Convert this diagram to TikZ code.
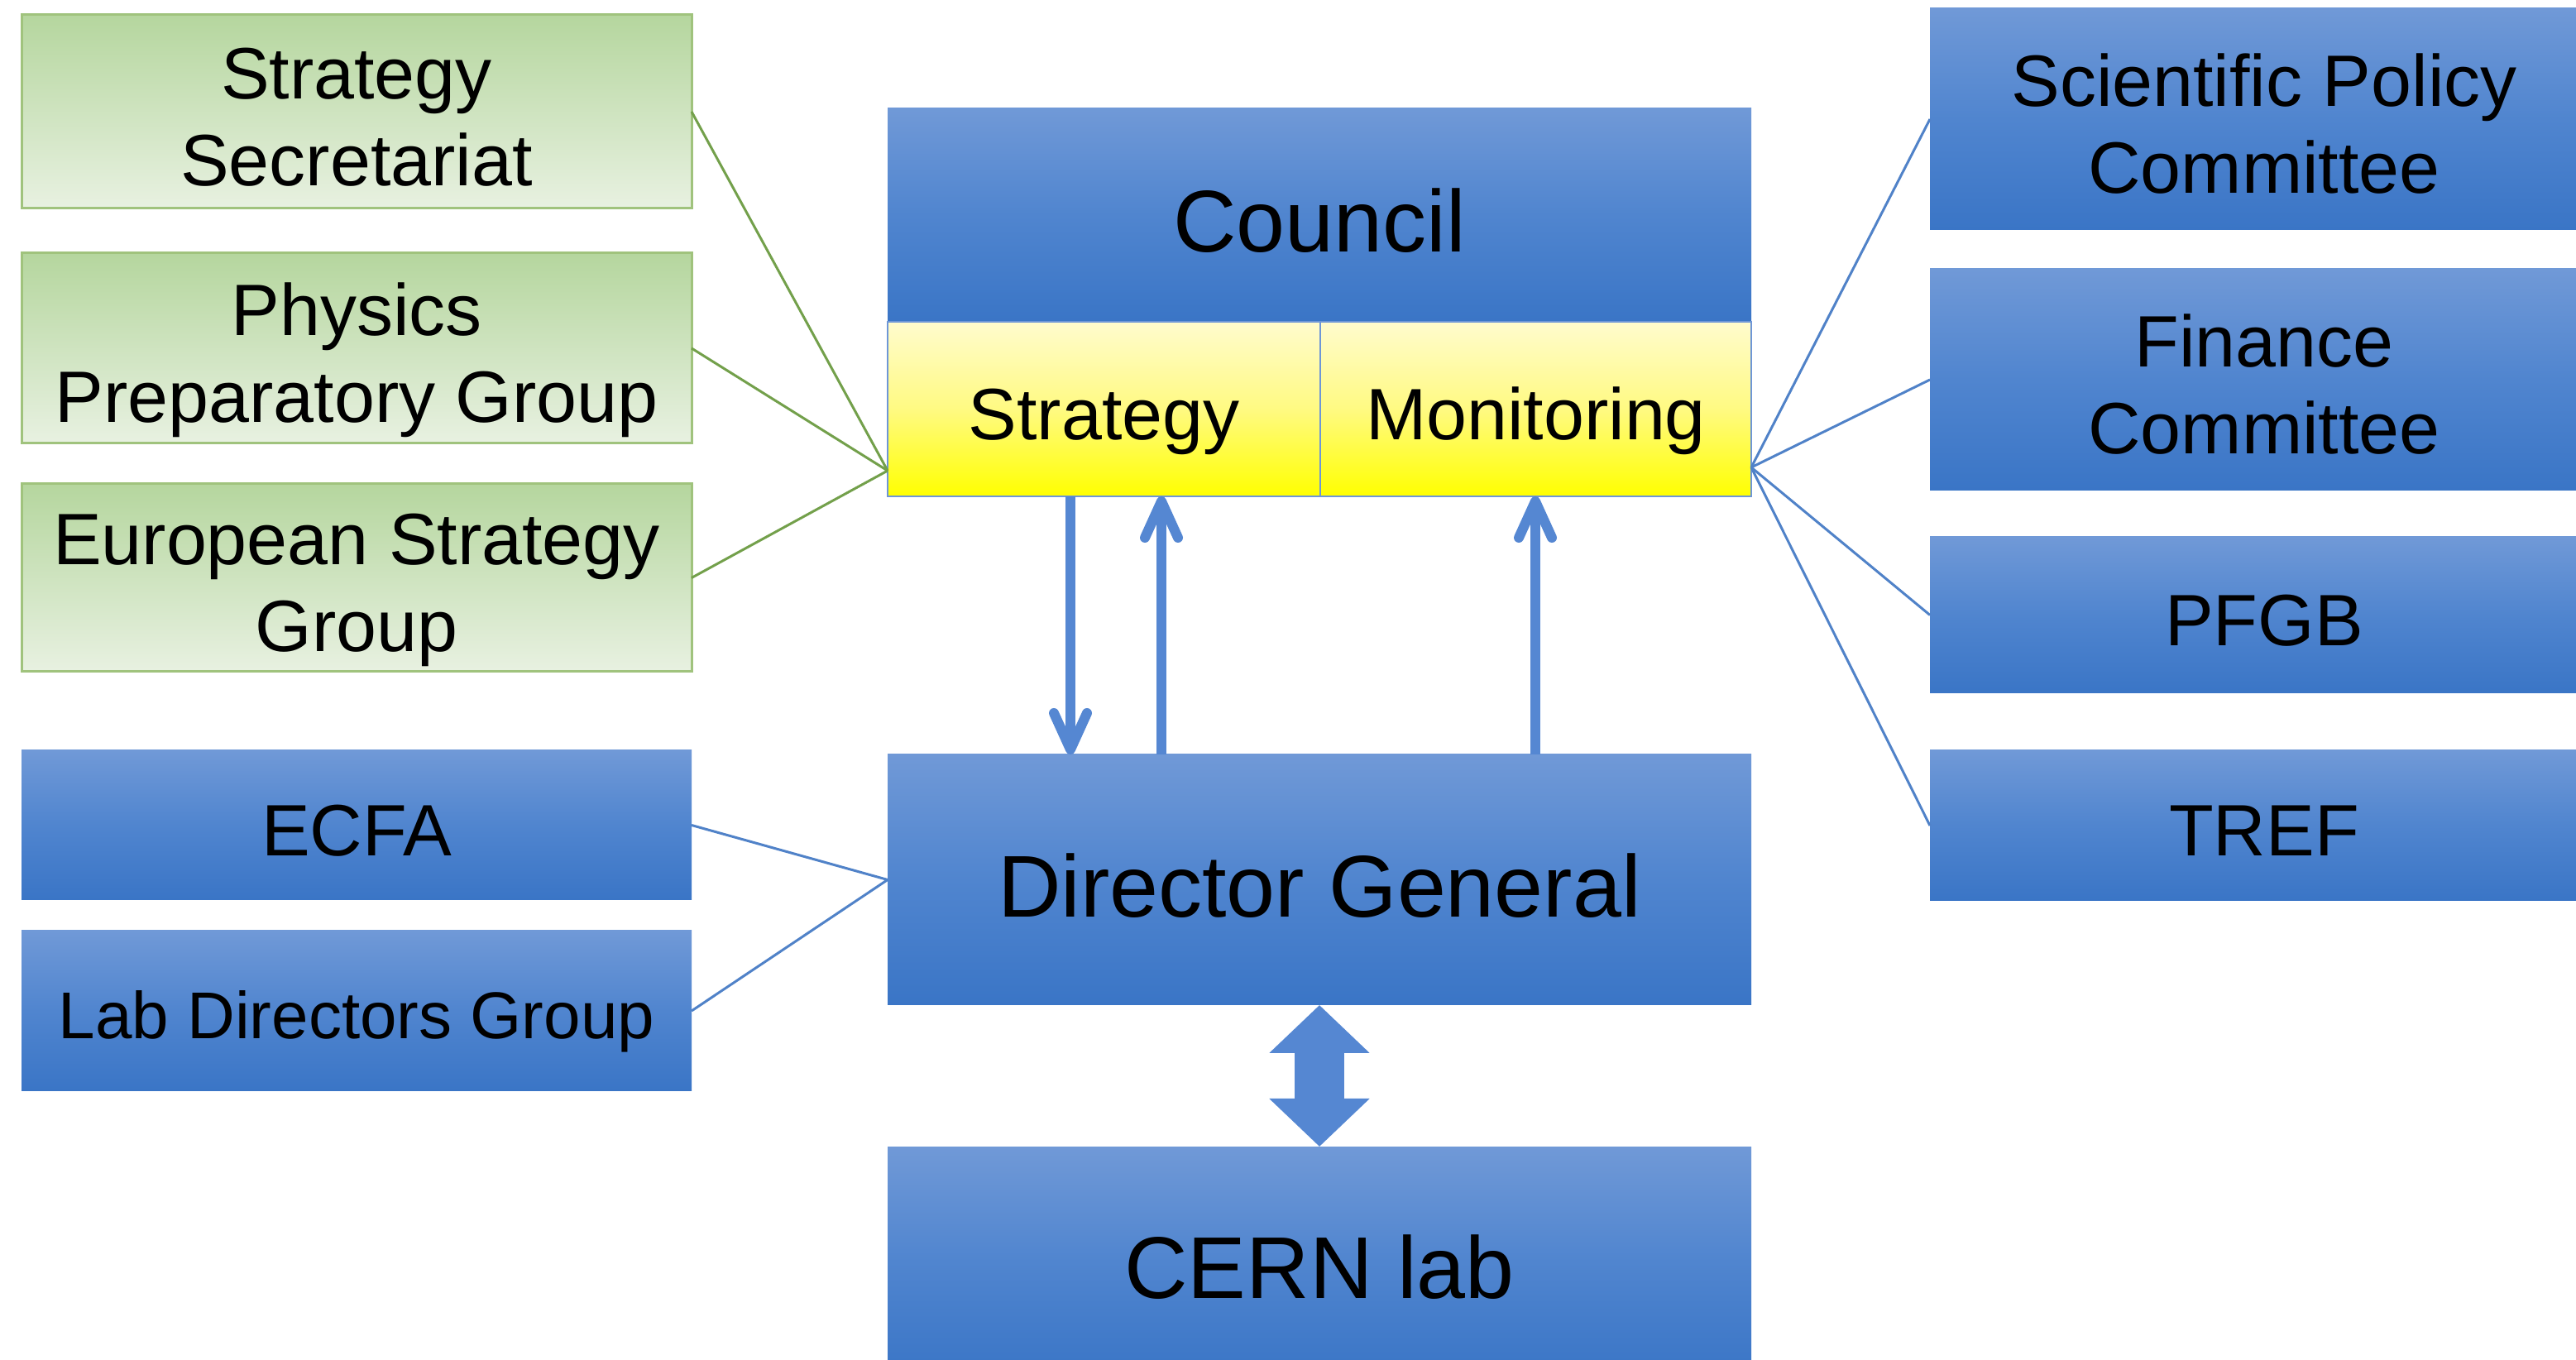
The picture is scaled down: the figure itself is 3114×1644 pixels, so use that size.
\documentclass[tikz,border=0pt]{standalone}
\usepackage{fontspec}
\setmainfont{Liberation Sans}
\usetikzlibrary{arrows.meta,calc}
\definecolor{blueTop}{RGB}{112,153,215}
\definecolor{blueMid}{RGB}{80,133,207}
\definecolor{blueBot}{RGB}{58,117,198}
\definecolor{greenTop}{RGB}{181,214,158}
\definecolor{greenBot}{RGB}{232,241,225}
\definecolor{greenEdge}{RGB}{160,195,125}
\definecolor{yellowTop}{RGB}{255,251,205}
\definecolor{yellowMid}{RGB}{255,250,130}
\definecolor{yellowBot}{RGB}{255,255,0}
\definecolor{yEdge}{RGB}{110,150,215}
\definecolor{lineBlue}{RGB}{80,130,200}
\definecolor{lineGreen}{RGB}{115,160,75}
\definecolor{arrowBlue}{RGB}{85,135,210}
\newcommand\pptstrut{\rule[-0.22em]{0pt}{1.28em}}
\newcommand\pptlines{\lineskiplimit -100pt\relax\lineskip 0pt\relax}
\begin{document}
\begin{tikzpicture}[x=0.25pt,y=-0.25pt,
  every node/.style={inner sep=0pt,outer sep=0pt,align=center},
  bluebox/.style={shade,top color=blueTop,bottom color=blueBot,middle color=blueMid},
  greenbox/.style={shade,top color=greenTop,bottom color=greenBot,draw=greenEdge,line width=0.75pt},
  yellowbox/.style={shade,top color=yellowTop,bottom color=yellowBot,middle color=yellowMid,draw=yEdge,line width=0.6pt},
  bigtxt/.style={font={\fontsize{26.5pt}{31pt}\selectfont\pptlines}},
  midtxt/.style={font={\fontsize{22pt}{26.25pt}\selectfont\pptlines}},
  smalltxt/.style={font={\fontsize{20pt}{24pt}\selectfont\pptlines}},
  sidebox/.style={minimum width=202.5pt},
  rightbox/.style={minimum width=202pt},
  centbox/.style={minimum width=261pt},
  gline/.style={draw=lineGreen,line width=0.75pt},
  bline/.style={draw=lineBlue,line width=0.75pt},
  flow/.style={draw=arrowBlue,line width=3pt,-{Straight Barb[length=11pt,width=10pt,line cap=round,line join=round]}},
  dbl/.style={draw=arrowBlue,line width=15pt,{Triangle[length=14.5pt,width=29.5pt]}-{Triangle[length=14.5pt,width=29.5pt]}}
]
\useasboundingbox (0,0) rectangle (3114,1644);
\clip (0,0) rectangle (3114,1644);

% left green boxes
\node[greenbox,sidebox,minimum height=58.5pt,midtxt] (ss) at (431,135) {\pptstrut Strategy\\\pptstrut Secretariat};
\node[greenbox,sidebox,minimum height=57.5pt,midtxt] (ppg) at (431,421) {\pptstrut Physics\\\pptstrut Preparatory Group};
\node[greenbox,sidebox,minimum height=56.75pt,midtxt] (esg) at (431,698.5) {\pptstrut European Strategy\\\pptstrut Group};

% left blue boxes
\node[bluebox,sidebox,minimum height=45.25pt,midtxt] (ecfa) at (431,997.5) {\pptstrut ECFA};
\node[bluebox,sidebox,minimum height=48.5pt,smalltxt] (ldg) at (431,1222) {\pptstrut Lab Directors Group};

% centre column
\node[bluebox,centbox,minimum height=64.5pt,bigtxt] (council) at (1595,260) {\pptstrut Council};
\node[yellowbox,minimum width=130.75pt,minimum height=52.75pt,midtxt] (strat) at (1334.5,494.5) {\pptstrut Strategy};
\node[yellowbox,minimum width=130.25pt,minimum height=52.75pt,midtxt] (mon) at (1856.5,494.5) {\pptstrut Monitoring};
\node[bluebox,centbox,minimum height=75.75pt,bigtxt] (dg) at (1595,1063.5) {\pptstrut Director General};
\node[bluebox,centbox,minimum height=69.5pt,bigtxt] (cern) at (1595,1525) {\pptstrut CERN lab};

% right blue boxes
\node[bluebox,rightbox,minimum height=67pt,midtxt] (spc) at (2737,144) {\pptstrut Scientific Policy\\\pptstrut Committee};
\node[bluebox,rightbox,minimum height=67pt,midtxt] (fc) at (2737,459) {\pptstrut Finance\\\pptstrut Committee};
\node[bluebox,rightbox,minimum height=47.25pt,midtxt] (pfgb) at (2737,743.5) {\pptstrut PFGB};
\node[bluebox,rightbox,minimum height=45.5pt,midtxt] (tref) at (2737,998) {\pptstrut TREF};

% convergence points
\coordinate (cl) at (1073,569);
\coordinate (cr) at (2117,565);
\coordinate (xa) at (1294,0);
\coordinate (xb) at (1404,0);
\coordinate (xc) at (1856,0);

% thin connectors
\draw[gline] (ss.east) -- (cl);
\draw[gline] (ppg.east) -- (cl);
\draw[gline] (esg.east) -- (cl);
\draw[bline] (ecfa.east) -- (dg.west);
\draw[bline] (ldg.east) -- (dg.west);
\draw[bline] (spc.west) -- (cr);
\draw[bline] (fc.west) -- (cr);
\draw[bline] (pfgb.west) -- (cr);
\draw[bline] (tref.west) -- (cr);

% flow arrows
\draw[flow] (strat.south -| xa) -- (dg.north -| xa);
\draw[flow] (dg.north -| xb) -- (strat.south -| xb);
\draw[flow] (dg.north -| xc) -- (mon.south -| xc);

% double arrow
\draw[dbl] (dg.south) -- (cern.north);
\end{tikzpicture}
\end{document}
